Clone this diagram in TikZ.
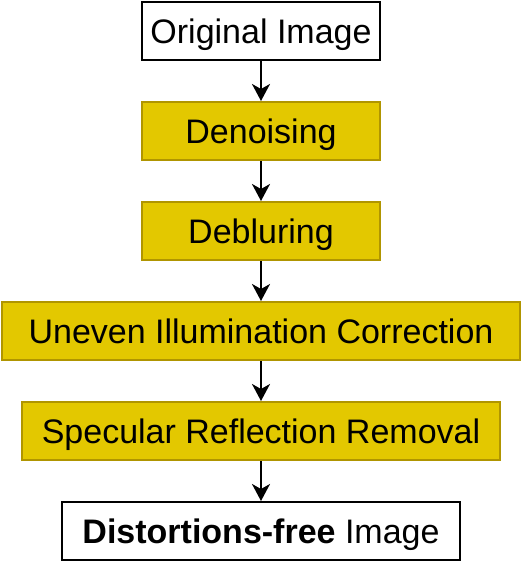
\documentclass[tikz,border=0pt]{standalone}
\usepackage{fontspec}
\setmainfont{Liberation Sans}
\usetikzlibrary{arrows.meta}
\definecolor{goldfill}{HTML}{E3C800}
\definecolor{goldline}{HTML}{B09500}
\begin{document}
\begin{tikzpicture}[x=1pt,y=-1pt,
  box/.style={draw=black,line width=2pt,fill=white,minimum height=58pt,inner sep=0pt,text height=24pt,text depth=0pt,font=\fontsize{34}{40}\selectfont,text=black},
  goldbox/.style={box,draw=goldline,fill=goldfill},
  conn/.style={line width=2pt,-{Stealth[length=17pt,width=18pt,inset=5pt]}}]
\useasboundingbox (0,0) rectangle (522,562);
\node[box,minimum width=238pt] (orig) at (261,31) {Original Image};
\node[goldbox,minimum width=238pt] (den) at (261,131) {Denoising};
\node[goldbox,minimum width=238pt] (deb) at (261,231) {Debluring};
\node[goldbox,minimum width=518pt] (unev) at (261,331) {Uneven Illumination Correction};
\node[goldbox,minimum width=478pt] (spec) at (261,431) {Specular Reflection Removal};
\node[box,minimum width=398pt] (free) at (261,531) {\textbf{Distortions-free} Image};
\draw[conn] (orig) -- (den);
\draw[conn] (den) -- (deb);
\draw[conn] (deb) -- (unev);
\draw[conn] (unev) -- (spec);
\draw[conn] (spec) -- (free);
\end{tikzpicture}
\end{document}
